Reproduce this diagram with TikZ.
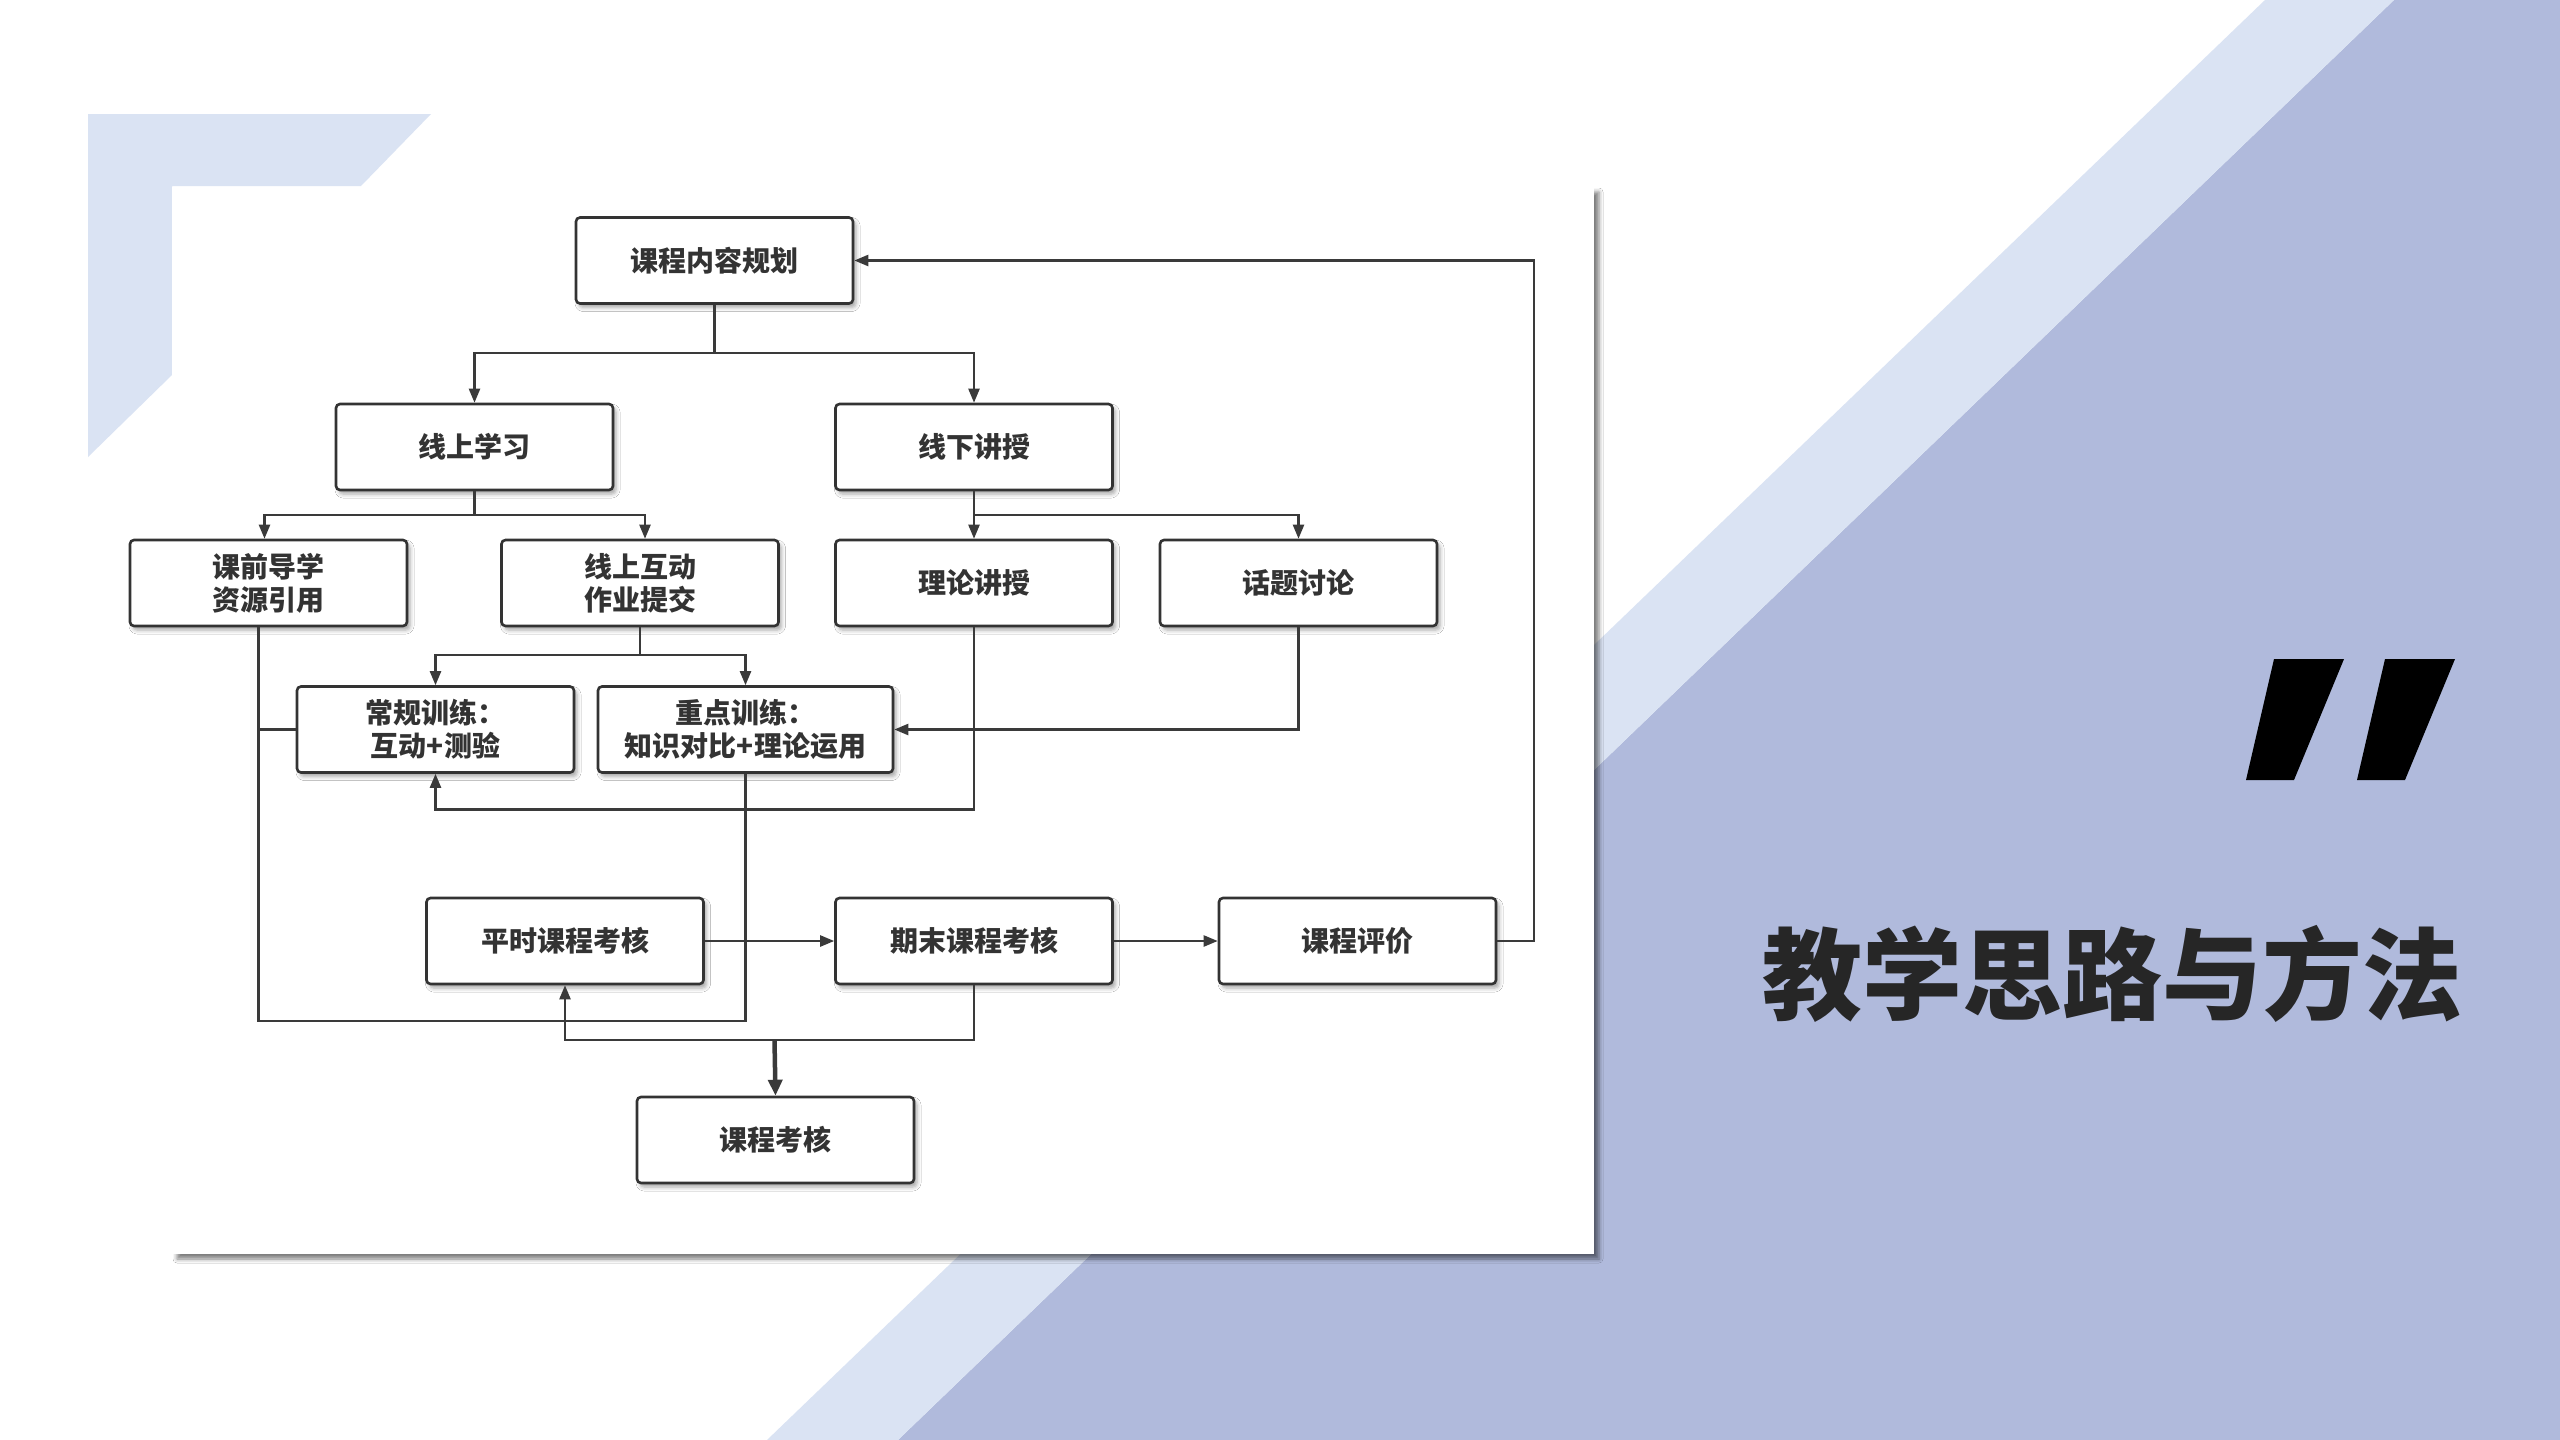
\documentclass[tikz,border=0pt]{standalone}
\usepackage{fontspec}
\setmainfont{Noto Sans CJK SC}
\usetikzlibrary{arrows.meta,shadows.blur,calc}
\definecolor{bandc}{HTML}{DAE3F3}
\definecolor{peric}{HTML}{B0BADC}
\definecolor{boxc}{HTML}{333333}
\definecolor{linec}{HTML}{3A3A3A}
\definecolor{textc}{HTML}{333333}
\definecolor{titlec}{HTML}{262626}
\tikzset{
  fbox/.style={draw=boxc, line width=2.6pt, rounded corners=4pt, fill=white,
    minimum width=277pt, minimum height=86pt, inner sep=0pt, text=textc,
    align=center, font=\fontsize{28}{33}\selectfont\bfseries,
    blur shadow={shadow xshift=3pt, shadow yshift=-4pt, shadow blur radius=4pt, shadow opacity=35}},
  conn/.style={draw=linec, line width=2.3pt},
  arr/.style={conn, -{Triangle[length=14pt,width=11pt]}},
  thickarr/.style={draw=linec, line width=4.5pt, -{Triangle[length=16pt,width=14pt]}}
}
\begin{document}
\begin{tikzpicture}[x=1pt,y=-1pt]
\useasboundingbox (0,0) rectangle (2560,1440);
% background
\fill[white] (0,0) rectangle (2560,1440);
\fill[peric] (2394,0) -- (2560,0) -- (2560,1440) -- (898,1440) -- cycle;
\fill[bandc] (2265,0) -- (2394,0) -- (898,1440) -- (767,1440) -- cycle;
\fill[bandc] (88,114) -- (431,114) -- (361,186) -- (172,186) -- (172,375) -- (88,457) -- cycle;
% card
\path[fill=white, blur shadow={shadow xshift=5pt, shadow yshift=-5pt, shadow blur radius=4pt, shadow opacity=50}] (172,187) rectangle (1594,1254);
% quote marks
\fill[black] (2274,659) -- (2344,659) -- (2294,780) -- (2246,780) -- cycle;
\fill[black] (2385,659) -- (2455,659) -- (2405,780) -- (2357,780) -- cycle;
% title
\node[font=\fontsize{100}{110}\selectfont\bfseries, text=titlec, inner sep=0pt] (title) at (2112,974) {教学思路与方法};
% nodes
\node[fbox] (plan) at (714.5,260.5) {课程内容规划};
\node[fbox] (online) at (474.5,447) {线上学习};
\node[fbox] (offline) at (974,447) {线下讲授};
\node[fbox] (pre) at (268.5,583) {课前导学\\资源引用};
\node[fbox] (inter) at (640,583) {线上互动\\作业提交};
\node[fbox] (theory) at (974,583) {理论讲授};
\node[fbox] (topic) at (1298.5,583) {话题讨论};
\node[fbox] (regular) at (435.5,729.5) {常规训练：\\互动+测验};
\node[fbox, minimum width=295pt] (key) at (745.5,729.5) {重点训练：\\知识对比+理论运用};
\node[fbox] (usual) at (565,941) {平时课程考核};
\node[fbox] (final) at (974,941) {期末课程考核};
\node[fbox] (eval) at (1357.5,941) {课程评价};
\node[fbox] (exam) at (775.5,1140) {课程考核};
% junction coordinates
\coordinate (j1) at (714.5,353);
\coordinate (j2) at (474.5,515);
\coordinate (j3) at (974,515);
\coordinate (j4) at (640,655);
\coordinate (j5) at (974,809.5);
\coordinate (j6) at (258.4,1021);
\coordinate (j7) at (974,1040);
\coordinate (j8) at (774.5,1040);
\coordinate (j9) at (1534,941);
% connectors
\draw[arr] (plan.south) -- (j1) -| (online.north);
\draw[arr] (j1) -| (offline.north);
\draw[arr] (online.south) -- (j2) -| ([xshift=-4pt]pre.north);
\draw[arr] (j2) -| ([xshift=5pt]inter.north);
\draw[arr] (offline.south) -- (theory.north);
\draw[arr] (j3) -| (topic.north);
\draw[arr] (inter.south) -- (j4) -| (regular.north);
\draw[arr] (j4) -| (key.north);
\draw[arr] (theory.south) -- (j5) -| (regular.south);
\draw[arr] (topic.south) |- (key.east);
\draw[conn] (pre.south -| j6) -- (j6) -| (key.south);
\draw[conn] (regular.west) -- (regular.west -| j6);
\draw[arr] (final.south) -- (j7) -| (usual.south);
\draw[thickarr] (j8) -- (exam.north);
\draw[arr] (usual.east) -- (final.west);
\draw[arr] (final.east) -- (eval.west);
\draw[arr] (eval.east) -- (j9) |- (plan.east);
\end{tikzpicture}
\end{document}
